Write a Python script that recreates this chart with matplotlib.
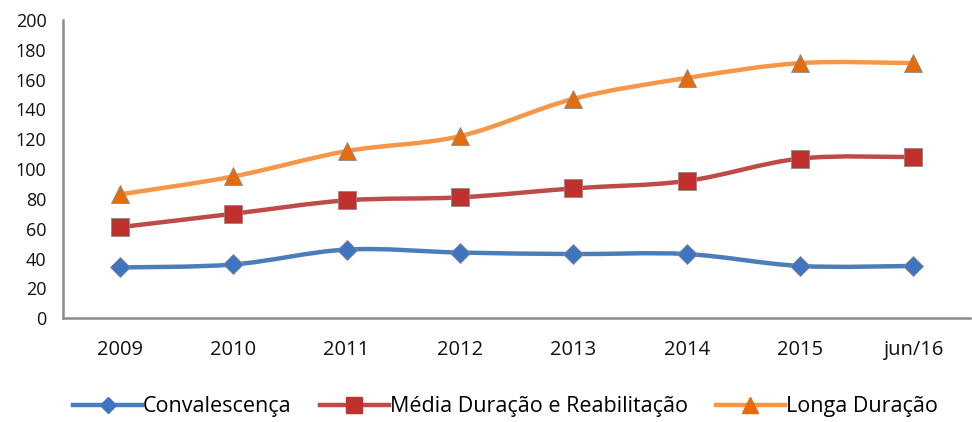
import matplotlib
matplotlib.use("Agg")
import matplotlib.pyplot as plt
from matplotlib.path import Path
from matplotlib.patches import PathPatch
from matplotlib.lines import Line2D

plt.rcParams['font.family'] = ['Open Sans', 'DejaVu Sans']

categories = ['2009', '2010', '2011', '2012', '2013', '2014', '2015', 'jun/16']
convalescenca = [34, 36, 46, 44, 43, 43, 35, 35]
media_duracao = [61, 70, 79, 81, 87, 92, 107, 108]
longa_duracao = [83, 95, 112, 122, 147, 161, 171, 171]

series = [
    ('Convalescença', convalescenca, '#4A7EBB', '#3F74C0', 'D', 10),
    ('Média Duração e Reabilitação', media_duracao, '#BE4B48', '#C0302D', 's', 13),
    ('Longa Duração', longa_duracao, '#F79646', '#E46C0A', '^', 13),
]


def smooth_path(xs, ys, t=1 / 6):
    # Excel-like smoothing: Catmull-Rom turned into cubic Bezier segments
    verts = [(xs[0], ys[0])]
    codes = [Path.MOVETO]
    n = len(xs)
    for i in range(n - 1):
        x0, y0 = (xs[i - 1], ys[i - 1]) if i > 0 else (xs[i], ys[i])
        x1, y1 = xs[i], ys[i]
        x2, y2 = xs[i + 1], ys[i + 1]
        x3, y3 = (xs[i + 2], ys[i + 2]) if i + 2 < n else (x2, y2)
        c1 = (x1 + (x2 - x0) * t, y1 + (y2 - y0) * t)
        c2 = (x2 - (x3 - x1) * t, y2 - (y3 - y1) * t)
        verts += [c1, c2, (x2, y2)]
        codes += [Path.CURVE4] * 3
    return Path(verts, codes)


fig = plt.figure(figsize=(9.72, 4.22), dpi=100)
ax = fig.add_axes([0.065, 0.246, 0.933, 0.707])

xs = list(range(len(categories)))
handles = []
for name, vals, col, mcol, mk, ms in series:
    ax.add_patch(PathPatch(smooth_path(xs, vals), facecolor='none', edgecolor=col,
                           lw=3.2, capstyle='round', joinstyle='round', zorder=2))
    ax.plot(xs, vals, linestyle='none', marker=mk, markersize=ms, color=mcol,
            markeredgecolor='#8a8a8a', markeredgewidth=0.6, zorder=3)
    handles.append(Line2D([], [], color=col, lw=3.2, marker=mk, markersize=ms * 0.85,
                          markerfacecolor=mcol, markeredgecolor=mcol, label=name))

ax.set_xlim(-0.5, len(categories) - 0.5)
ax.set_ylim(0, 200)
ax.set_yticks(range(0, 201, 20))
ax.set_xticks(xs)
ax.set_xticklabels(categories)
ax.tick_params(axis='both', length=0, labelsize=13, colors='#111111')
ax.tick_params(axis='x', pad=16, labelsize=14.5)
ax.tick_params(axis='y', pad=12)

for side in ['top', 'right']:
    ax.spines[side].set_visible(False)
for side in ['left', 'bottom']:
    ax.spines[side].set_color('#8c8c8c')
    ax.spines[side].set_linewidth(1.8)

fig.legend(handles=handles, loc='lower center', bbox_to_anchor=(0.52, -0.035), ncol=3,
           frameon=False, fontsize=15.5, handlelength=3.2, handletextpad=0.05,
           columnspacing=1.3)

fig.savefig('out.png', dpi=100)
